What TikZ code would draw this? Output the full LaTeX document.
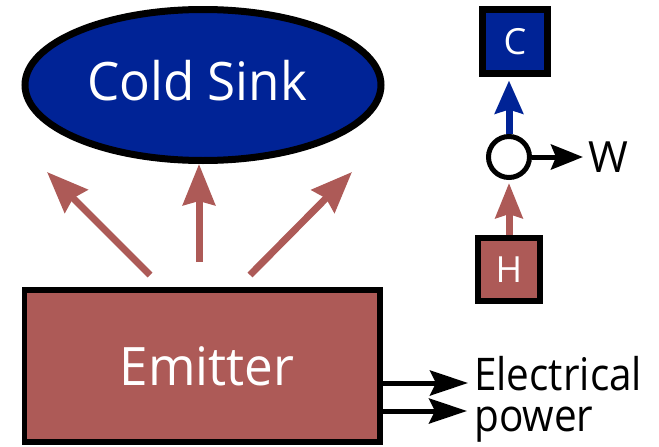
\documentclass[tikz,border=0pt]{standalone}
\usepackage{fontspec}
\setmainfont{Open Sans}[FakeStretch=0.9]
\newfontfamily\bigfont{Open Sans}[FakeStretch=0.965]
\newfontfamily\wfont{Open Sans}
\usetikzlibrary{arrows.meta,shapes.geometric}
\definecolor{sinkblue}{RGB}{0,35,150}
\definecolor{emitred}{RGB}{173,90,87}
\begin{document}
\begin{tikzpicture}[x=1pt,y=-1pt,
  redarrow/.style={draw=emitred,line width=7pt,-{Stealth[length=41pt,width=32pt,inset=4pt,fill=emitred]}},
  smallred/.style={draw=emitred,line width=7pt,-{Stealth[length=35pt,width=27pt,inset=4pt,fill=emitred]}},
  bluearrow/.style={draw=sinkblue,line width=7pt,-{Stealth[length=33pt,width=28pt,inset=4pt,fill=sinkblue]}},
  blackarrow/.style={draw=black,line width=5pt,-{Stealth[length=38pt,width=25pt,inset=6pt]}},
  warrow/.style={draw=black,line width=5pt,-{Stealth[length=32pt,width=25pt,inset=5pt]}},
  smallbox/.style={rectangle,draw=black,inner sep=0pt,text=white,font=\wfont\fontsize{36}{40}\selectfont}
]
\useasboundingbox (0,0) rectangle (659,447);

% cold sink
\node[ellipse,draw=black,line width=7pt,fill=sinkblue,minimum width=356pt,minimum height=151pt,
      inner sep=0pt,text=white,font=\bigfont\fontsize{53}{60}\selectfont] (sink) at (203,85)
      {\raisebox{9pt}{Cold Sink\hspace{12pt}}};

% emitter
\node[rectangle,draw=black,line width=5.5pt,fill=emitred,minimum width=355.5pt,minimum height=152pt,
      inner sep=0pt,text=white,font=\bigfont\fontsize{53}{60}\selectfont] (emit) at (202.2,366.1)
      {\hspace{10pt}Emitter};

% fan arrows
\coordinate (l0) at (150,275);
\coordinate (l1) at (47,172);
\coordinate (m0) at (199,262);
\coordinate (r0) at (250,275);
\coordinate (r1) at (352,172);
\draw[redarrow] (l0) -- (l1);
\draw[redarrow] (m0) -- (m0 |- sink.south);
\draw[redarrow] (r0) -- (r1);

% electrical power
\node[anchor=base west,inner sep=0pt,font=\fontsize{45}{42}\selectfont] (elec1) at (474,390) {Electrical};
\node[anchor=base west,inner sep=0pt,font=\fontsize{45}{42}\selectfont] (elec2) at (474,431) {power};
\coordinate (e1) at (468,383);
\coordinate (e2) at (467,411);
\draw[blackarrow] (emit.east |- e1) -- (e1);
\draw[blackarrow] (emit.east |- e2) -- (e2);

% small engine diagram
\node[smallbox,line width=7pt,fill=sinkblue,minimum width=65pt,minimum height=64pt] (C) at (515,41.5) {C};
\node[smallbox,line width=6pt,fill=emitred,minimum width=62pt,minimum height=63pt] (H) at (509,269.5) {H};
\node[circle,draw=black,line width=5pt,fill=white,minimum size=41pt,inner sep=0pt] (circ) at (509,157) {};
\node[anchor=west,inner sep=0pt,font=\wfont\fontsize{43}{48}\selectfont] (W) at (588,157) {W};

\draw[bluearrow,shorten >=3.5pt] (circ.north) -- (circ.north |- C.south);
\draw[smallred,shorten >=3pt] (H.north) -- (circ.south);
\draw[warrow,shorten >=5pt] (circ.east) -- (W.west);
\end{tikzpicture}
\end{document}
